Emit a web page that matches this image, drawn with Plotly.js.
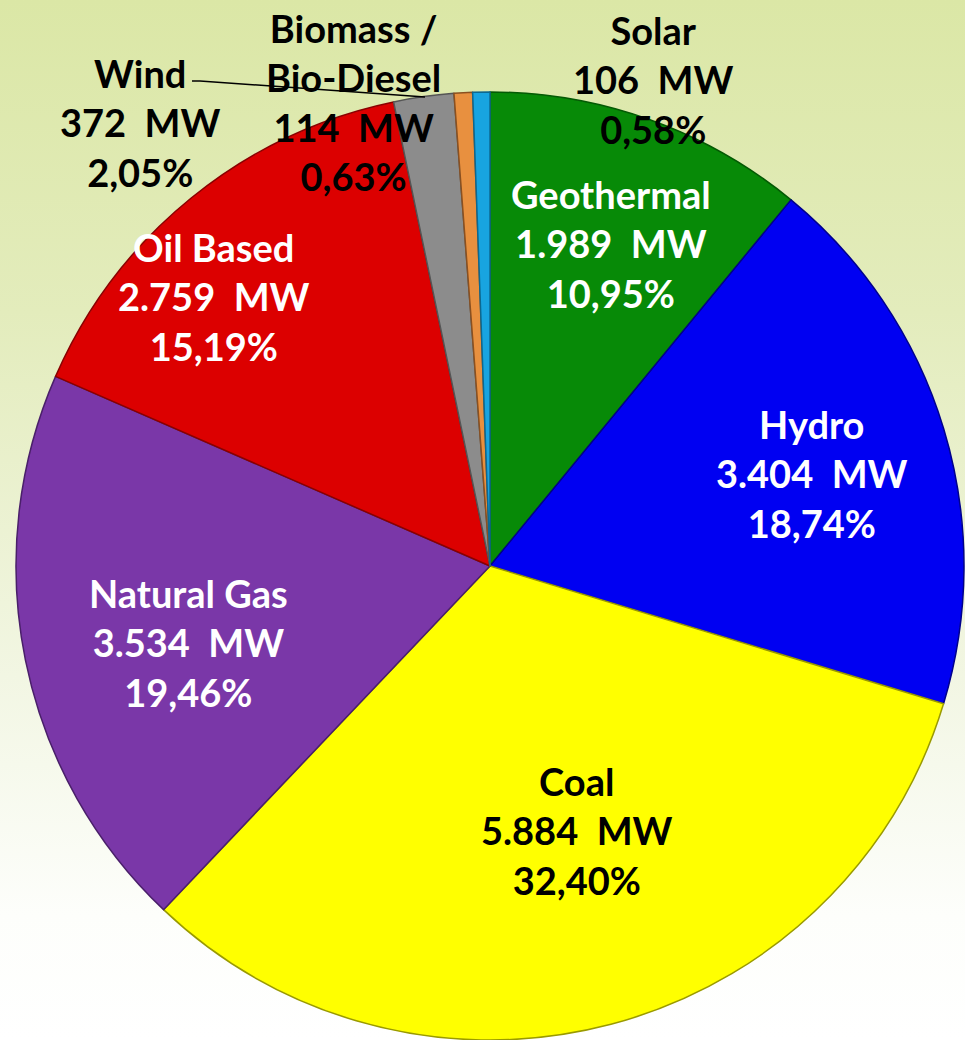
<!DOCTYPE html>
<html>
<head>
<meta charset="utf-8">
<script src="https://cdn.plot.ly/plotly-3.0.1.min.js"></script>
<style>
  html, body { margin: 0; padding: 0; }
  body {
    width: 965px; height: 1040px; overflow: hidden;
    background: linear-gradient(to bottom, #dbe7a6 0%, #e3ecbc 30%, #f2f6e3 65%, #fdfefb 88%, #ffffff 100%);
  }
  #chart { width: 965px; height: 1040px; }
</style>
</head>
<body>
<div id="chart"></div>
<script>
// ---- data ----
const categories = ["Geothermal", "Hydro", "Coal", "Natural Gas", "Oil Based", "Wind", "Biomass /<br>Bio-Diesel", "Solar"];
const capacityMW = [1989, 3404, 5884, 3534, 2759, 372, 114, 106];
const mwLabels = ["1.989", "3.404", "5.884", "3.534", "2.759", "372", "114", "106"];
const pctLabels = ["10,95%", "18,74%", "32,40%", "19,46%", "15,19%", "2,05%", "0,63%", "0,58%"];

// ---- styles ----
const sliceColors = ["#078a07", "#0000f2", "#ffff00", "#7a37a8", "#dc0000", "#8c8c8c", "#e8903f", "#18a4e0"];
const edgeColors  = ["#045a04", "#00008c", "#9a9a00", "#4a1f6a", "#8a0000", "#555555", "#8a5020", "#0d6890"];
const labelColors = ["#ffffff", "#ffffff", "#000000", "#ffffff", "#ffffff", "#000000", "#000000", "#000000"];
// label centre (pixel coords of middle line) for each slice
const labelPos = [[611, 243], [812, 474], [577, 830], [188, 642], [214, 296], [140, 122], [353, 102], [653, 80]];

const W = 965, H = 1040;
const annotations = categories.map((c, i) => ({
  xref: "paper", yref: "paper",
  x: labelPos[i][0] / W, y: 1 - labelPos[i][1] / H,
  xanchor: "center", yanchor: "middle",
  showarrow: false,
  align: "center",
  text: c + "<br>" + mwLabels[i] + "\u00a0 MW<br>" + pctLabels[i],
  font: { family: "Lato, 'Open Sans', sans-serif", size: 38, color: labelColors[i], weight: 700 }
}));

const data = [{
  type: "pie",
  labels: categories,
  values: capacityMW,
  sort: false,
  direction: "clockwise",
  rotation: 0,
  textinfo: "none",
  hoverinfo: "none",
  marker: { colors: sliceColors, line: { color: edgeColors, width: 1.5 } },
  domain: { x: [15 / W, 1], y: [0, 1 - 92 / H] },
  showlegend: false
}];

const layout = {
  width: W, height: H,
  margin: { l: 0, r: 0, t: 0, b: 0, pad: 0 },
  paper_bgcolor: "rgba(0,0,0,0)",
  plot_bgcolor: "rgba(0,0,0,0)",
  showlegend: false,
  annotations: annotations,
  shapes: [{
    type: "path", xref: "paper", yref: "paper",
    path: "M " + (192 / W) + "," + (1 - 81 / H) + " L " + (200 / W) + "," + (1 - 81 / H) + " L " + (425 / W) + "," + (1 - 97 / H),
    line: { color: "#000000", width: 1.5 }
  }]
};

Plotly.newPlot("chart", data, layout, { displayModeBar: false, staticPlot: true });
</script>
</body>
</html>
